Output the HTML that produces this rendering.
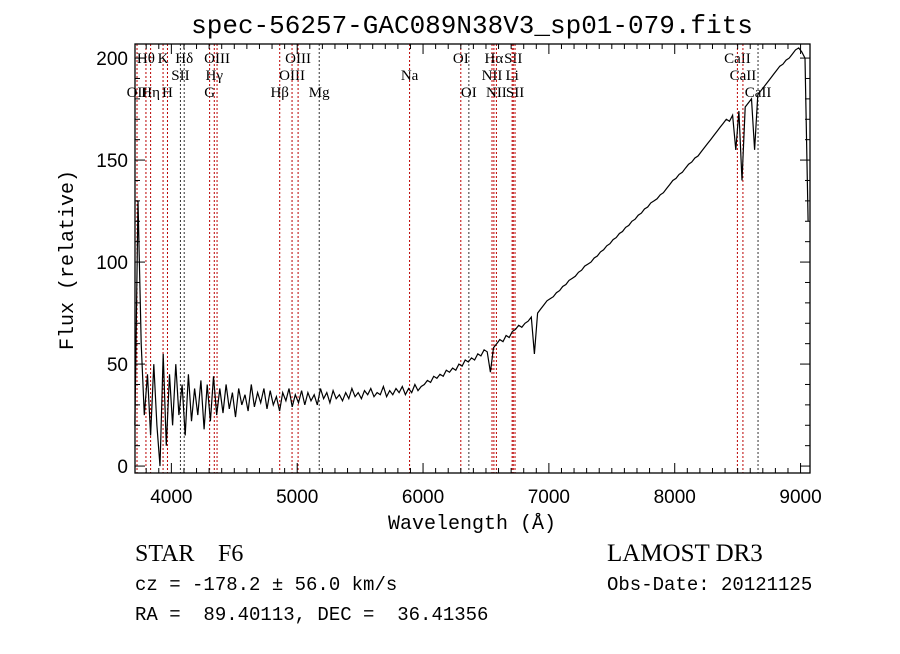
<!DOCTYPE html>
<html><head><meta charset="utf-8"><style>
body{margin:0;background:#fff;}
svg text{font-family:"Liberation Mono",monospace;fill:#000;white-space:pre;}
</style></head><body>
<svg id="chart" width="900" height="649" xmlns="http://www.w3.org/2000/svg">
<rect width="900" height="649" fill="#fff"/>
<text x="472" y="33" font-size="26" text-anchor="middle">spec-56257-GAC089N38V3_sp01-079.fits</text>
<g id="lines"></g>
<g id="ticks"></g>
<path id="spec" fill="none" stroke="#000" stroke-width="1.2"/>
<rect x="135" y="44" width="675" height="429" fill="none" stroke="#000" stroke-width="1.3"/>
<text x="472" y="529" font-size="20" text-anchor="middle">Wavelength (Å)</text>
<text transform="translate(73,260) rotate(-90)" font-size="20" text-anchor="middle">Flux (relative)</text>
<text x="135" y="561" font-size="24" style="font-family:'Liberation Serif',serif">STAR</text>
<text x="218" y="561" font-size="24" style="font-family:'Liberation Serif',serif">F6</text>
<text x="135" y="590" font-size="19">cz = -178.2 ± 56.0 km/s</text>
<text x="135" y="620" font-size="19" xml:space="preserve">RA =  89.40113, DEC =  36.41356</text>
<text x="607" y="561" font-size="25" style="font-family:'Liberation Serif',serif">LAMOST DR3</text>
<text x="607" y="590" font-size="19">Obs-Date: 20121125</text>
</svg>
<script>
const lamStart = 3710;
const lamStep = 25;
const flux = [20,130,60,25,45,15,50,20,0,55,10,45,20,50,25,40,15,45,22,38,25,42,18,40,22,44,25,38,
26,40,28,36,24,38,30,35,27,40,29,36,31,38,28,37,30,34,27,36,32,38,29,35,
31,37,30,36,32,35,30,38,33,36,31,37,33,35,32,36,33,38,34,36,33,37,35,38,34,36,35,39,34,37,35,38,36,39,35,38,36,40,37,39,
40,42,41,44,43,45,44,47,46,48,47,50,49,52,51,53,52,55,54,57,56,46,58,60,62,61,64,63,66,67,69,68,70,71,73,55,75,77,79,81,
82,83,85,86,88,89,91,92,93,95,96,98,99,100,102,103,105,106,108,109,111,112,114,115,117,118,120,121,123,124,126,127,129,130,131,133,134,136,138,140,
141,143,144,146,148,149,151,152,154,156,158,160,162,164,166,168,170,169,172,155,174,140,176,178,180,155,182,184,186,188,190,192,194,196,197,199,200,202,204,205,203,200,120];
const xTicks = [4000,5000,6000,7000,8000,9000];
const yTicks = [0,50,100,150,200];
const lineNames = ["OII","Hθ","Hη","K","H","SII","Hδ","G","Hγ","OIII","Hβ","OIII","OIII","Mg","Na","OI","OI","NII","Hα","NII","Li","SII","SII","CaII","CaII","CaII"];
const lineWaves = [3727,3798,3835,3934,3969,4072,4102,4304,4341,4363,4861,4959,5007,5175,5893,6300,6364,6548,6563,6583,6708,6717,6731,8498,8542,8662];
const lineRows = [2,0,2,0,2,1,0,2,1,0,2,1,0,2,1,0,2,1,0,2,1,0,2,0,1,2];
const lineRed = [1,1,1,1,1,0,0,1,1,1,1,1,1,0,1,1,0,1,1,1,1,1,1,1,1,0];

const X0=135,X1=810,Y0=473,Y1=44, L0=3711,L1=9075, F0=-3.4,F1=206.9;
const xs = l => X0+(l-L0)/(L1-L0)*(X1-X0);
const ys = f => Y0-(f-F0)/(F1-F0)*(Y0-Y1);
const NS="http://www.w3.org/2000/svg";
function mk(tag,attrs,parent){const e=document.createElementNS(NS,tag);for(const k in attrs)e.setAttribute(k,attrs[k]);parent.appendChild(e);return e;}

let d="";
flux.forEach((f,i)=>{const x=xs(lamStart+i*lamStep);d+=(i?"L":"M")+x.toFixed(1)+","+Math.min(Y0,Math.max(Y1,ys(f))).toFixed(1);});
document.getElementById("spec").setAttribute("d",d);

const lg=document.getElementById("lines");
lineWaves.forEach((w,i)=>{
  const x=xs(w);
  const ln=mk("line",{x1:x,x2:x,y1:Y1,y2:Y0,stroke:lineRed[i]?"#b00":"#333","stroke-width":1,"stroke-dasharray":"2,2"},lg);
  
  
  const t=mk("text",{x:x,y:63+lineRows[i]*17,"font-size":15,"text-anchor":"middle",style:"font-family:'Liberation Serif',serif"},lg);
  t.textContent=lineNames[i];
  
  
});

const tg=document.getElementById("ticks");
for(let l=3800;l<=9000;l+=100){
  const x=xs(l);const maj=l%1000===0;const h=maj?10:5;
  mk("line",{x1:x,x2:x,y1:Y0,y2:Y0-h,stroke:"#000"},tg);
  mk("line",{x1:x,x2:x,y1:Y1,y2:Y1+h,stroke:"#000"},tg);
}
xTicks.forEach(v=>{
  const t=mk("text",{x:xs(v),y:503,"font-size":19,"text-anchor":"middle",style:"font-family:'Liberation Sans',sans-serif"},tg);
  t.textContent=v;
  
  
});
for(let v=0;v<=200;v+=10){
  const y=ys(v);const maj=v%50===0;const h=maj?10:5;
  mk("line",{x1:X0,x2:X0+h,y1:y,y2:y,stroke:"#000"},tg);
  mk("line",{x1:X1,x2:X1-h,y1:y,y2:y,stroke:"#000"},tg);
}
yTicks.forEach(v=>{
  const t=mk("text",{x:128,y:ys(v)+7,"font-size":19,"text-anchor":"end",style:"font-family:'Liberation Sans',sans-serif"},tg);
  t.textContent=v;
  
  
});
</script>
</body></html>
